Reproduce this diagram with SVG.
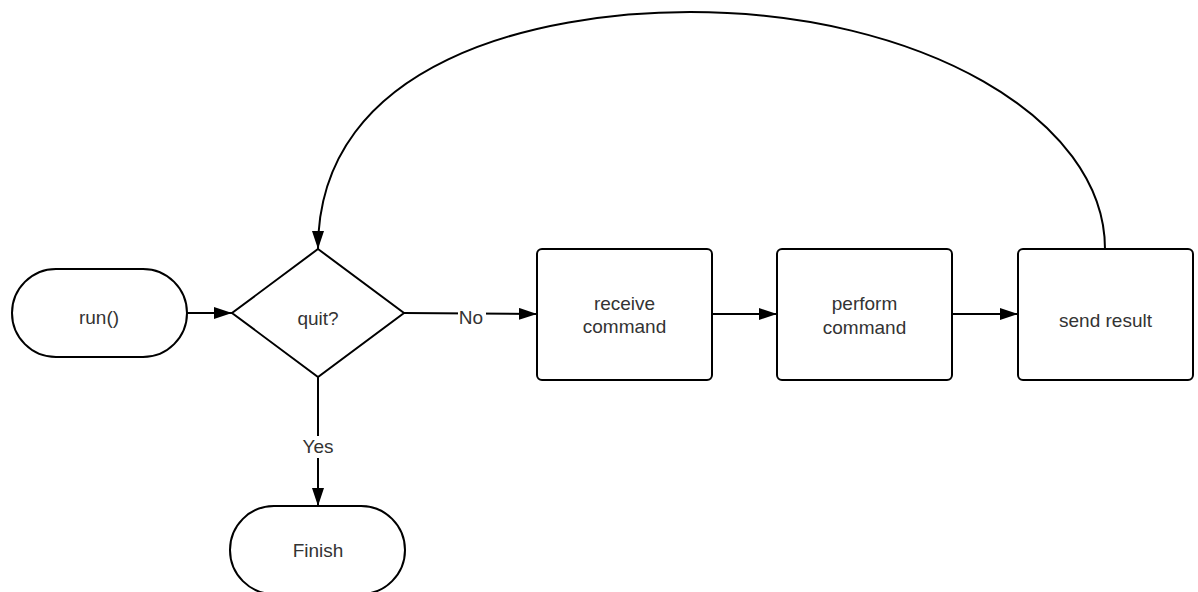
<svg xmlns="http://www.w3.org/2000/svg" width="1198" height="592" viewBox="0 0 1198 592">
  <style>
    .shape { fill: #ffffff; stroke: #000000; stroke-width: 2; }
    .edge { fill: none; stroke: #000000; stroke-width: 2; }
    .lbl { font-family: "Liberation Sans", Arial, sans-serif; font-size: 19px; fill: #333333; text-anchor: middle; }
    .lblbg { fill: #ffffff; stroke: none; }
  </style>
  <defs>
    <marker id="arrow" viewBox="0 0 18 12" refX="18" refY="6" markerWidth="18" markerHeight="12" markerUnits="userSpaceOnUse" orient="auto">
      <path d="M0,0 L18,6 L0,12 z" fill="#000000"/>
    </marker>
  </defs>
  <rect width="1198" height="592" fill="#ffffff"/>

  <g id="connectors">
    <line class="edge" x1="187" y1="313" x2="232" y2="313" marker-end="url(#arrow)"/>
    <line class="edge" x1="404" y1="313" x2="537" y2="314" marker-end="url(#arrow)"/>
    <line class="edge" x1="712" y1="314" x2="777" y2="314" marker-end="url(#arrow)"/>
    <line class="edge" x1="952" y1="314" x2="1018" y2="314" marker-end="url(#arrow)"/>
    <line class="edge" x1="318" y1="377" x2="318" y2="506" marker-end="url(#arrow)"/>
    <path class="edge" d="M1105,249 C1105,118 919,12 690,12 C540,12 318,60 318,249" marker-end="url(#arrow)"/>
    <g id="label-no">
      <rect class="lblbg" x="458" y="304" width="28" height="22"/>
      <text class="lbl" x="471" y="324">No</text>
    </g>
    <g id="label-yes">
      <rect class="lblbg" x="300" y="436" width="36" height="22"/>
      <text class="lbl" x="318" y="453">Yes</text>
    </g>
  </g>

  <g id="node-run">
    <rect class="shape" x="12" y="269" width="175" height="88" rx="44" ry="44"/>
    <text class="lbl" x="99" y="323.5">run()</text>
  </g>
  <g id="node-quit">
    <polygon class="shape" points="318,249 404,313 318,377 232,313"/>
    <text class="lbl" x="318" y="325">quit?</text>
  </g>
  <g id="node-receive">
    <rect class="shape" x="537" y="249" width="175" height="131" rx="5" ry="5"/>
    <text class="lbl" x="624.5" y="309.5">receive</text>
    <text class="lbl" x="624.5" y="333">command</text>
  </g>
  <g id="node-perform">
    <rect class="shape" x="777" y="249" width="175" height="131" rx="5" ry="5"/>
    <text class="lbl" x="864.5" y="310">perform</text>
    <text class="lbl" x="864.5" y="333.5">command</text>
  </g>
  <g id="node-send">
    <rect class="shape" x="1018" y="249" width="175" height="131" rx="5" ry="5"/>
    <text class="lbl" x="1105.5" y="327">send result</text>
  </g>
  <g id="node-finish">
    <rect class="shape" x="230" y="506" width="175" height="88" rx="44" ry="44"/>
    <text class="lbl" x="318" y="557">Finish</text>
  </g>
</svg>
